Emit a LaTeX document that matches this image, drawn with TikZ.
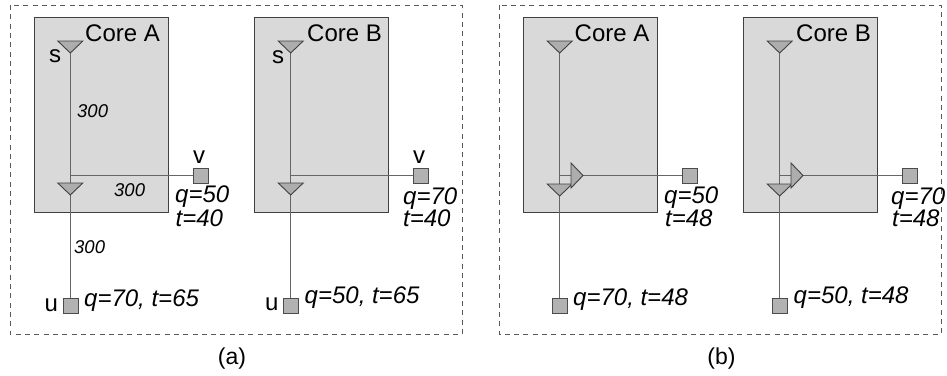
\documentclass[tikz,border=0pt]{standalone}
\usepackage{fontspec}
\setmainfont{Liberation Sans}
\usetikzlibrary{positioning}
\tikzset{
  panel/.style={draw=black!65, line width=0.9pt, dash pattern=on 5pt off 4.3pt},
  core/.style={draw=black!75, line width=1pt, fill=black!15},
  wire/.style={draw=black!60, line width=1.5pt},
  buf/.style={draw=black!75, line width=0.9pt, fill=black!32},
  sink/.style={draw=black!70, line width=1pt, fill=black!30, minimum size=15pt, inner sep=0pt},
  big/.style={font=\fontsize{24}{24}\selectfont, inner sep=0pt, anchor=base west},
  lab/.style={font=\fontsize{24}{24}\selectfont\itshape, inner sep=0pt, anchor=base west},
  len/.style={font=\fontsize{18.5}{20}\selectfont\itshape, inner sep=0pt, anchor=base west},
  subcap/.style={font=\fontsize{23}{24}\selectfont, inner sep=0pt, anchor=base}
}
\begin{document}
\begin{tikzpicture}[x=1pt, y=-1pt]
  \useasboundingbox (0,0) rectangle (947,375);
  % Panels
  \draw[panel] (10,5) rectangle (462,334);
  \draw[panel] (499,5) rectangle (941,334);
  \node[subcap] (capa) at (232,364) {(a)};
  \node[subcap] (capb) at (721.5,364) {(b)};
  % Core A
  \draw[core] (34,17) rectangle (168,212);
  \node[big] (coreA) at (85,41.5) {Core A};
  \coordinate (sA) at (70.3,53);
  \coordinate (jA) at (70.3,175.5);
  \coordinate (bA) at (70.3,195);
  \node[sink] (vA) at (200.5,175.5) {};
  \node[sink] (uA) at (71,305.5) {};
  \draw[wire] (sA) -- (uA.north -| sA);
  \draw[wire] (jA) -- (vA);
  \draw[buf] (sA) -- ++(-12.5,-12) -- ++(25,0) -- cycle;
  \draw[buf] (bA) -- ++(-12.5,-12) -- ++(25,0) -- cycle;
  \node[big] (sa) at (49,62) {s};
  \node[big] (va) at (193,163) {v};
  \node[big] (ua) at (44.5,311) {u};
  \node[len] (l1) at (77,117) {300};
  \node[len] (l2) at (114,196.5) {300};
  \node[len] (l3) at (74,253) {300};
  \node[lab] (qa) at (175,202.5) {q=50};
  \node[lab] (ta) at (175.5,226) {t=40};
  \node[lab] (ra) at (84,306) {q=70, t=65};
  % Core B
  \draw[core] (254,17) rectangle (388,212);
  \node[big] (coreB) at (307,41) {Core B};
  \coordinate (sB) at (290.7,53);
  \coordinate (jB) at (290.7,175.5);
  \coordinate (bB) at (290.7,195);
  \node[sink] (vB) at (420.5,175.5) {};
  \node[sink] (uB) at (291,305.5) {};
  \draw[wire] (sB) -- (uB.north -| sB);
  \draw[wire] (jB) -- (vB);
  \draw[buf] (sB) -- ++(-12.5,-12) -- ++(25,0) -- cycle;
  \draw[buf] (bB) -- ++(-12.5,-12) -- ++(25,0) -- cycle;
  \node[big] (sb) at (272,63) {s};
  \node[big] (vb) at (413,163) {v};
  \node[big] (ub) at (265,310.5) {u};
  \node[lab] (qb) at (403,204) {q=70};
  \node[lab] (tb) at (403,226.5) {t=40};
  \node[lab] (rb) at (304.5,303) {q=50, t=65};
  % Core A, panel (b)
  \draw[core] (523,17) rectangle (657.5,212);
  \node[big] (coreC) at (574.5,41) {Core A};
  \coordinate (sC) at (559.7,53);
  \coordinate (jC) at (559.7,175.5);
  \coordinate (bC) at (559.7,196);
  \coordinate (rC) at (583,175.5);
  \node[sink] (vC) at (689.5,175.5) {};
  \node[sink] (uC) at (560,305.5) {};
  \draw[wire] (sC) -- (uC.north -| sC);
  \draw[wire] (jC) -- (vC);
  \draw[buf] (sC) -- ++(-12.5,-12) -- ++(25,0) -- cycle;
  \draw[buf] (bC) -- ++(-12.5,-12) -- ++(25,0) -- cycle;
  \draw[buf] (rC) -- ++(-12,-12.5) -- ++(0,25) -- cycle;
  \node[lab] (qc) at (664,203.5) {q=50};
  \node[lab] (tc) at (665,226) {t=48};
  \node[lab] (rc) at (573,305.5) {q=70, t=48};
  % Core B, panel (b)
  \draw[core] (743,17) rectangle (877.5,212);
  \node[big] (coreD) at (796,41) {Core B};
  \coordinate (sD) at (779.7,53);
  \coordinate (jD) at (779.7,175.5);
  \coordinate (bD) at (779.7,196);
  \coordinate (rD) at (803,175.5);
  \node[sink] (vD) at (910,175.5) {};
  \node[sink] (uD) at (780,305.5) {};
  \draw[wire] (sD) -- (uD.north -| sD);
  \draw[wire] (jD) -- (vD);
  \draw[buf] (sD) -- ++(-12.5,-12) -- ++(25,0) -- cycle;
  \draw[buf] (bD) -- ++(-12.5,-12) -- ++(25,0) -- cycle;
  \draw[buf] (rD) -- ++(-12,-12.5) -- ++(0,25) -- cycle;
  \node[lab] (qd) at (891,204) {q=70};
  \node[lab] (td) at (892,226.5) {t=48};
  \node[lab] (rd) at (793.5,303) {q=50, t=48};
\end{tikzpicture}
\end{document}
